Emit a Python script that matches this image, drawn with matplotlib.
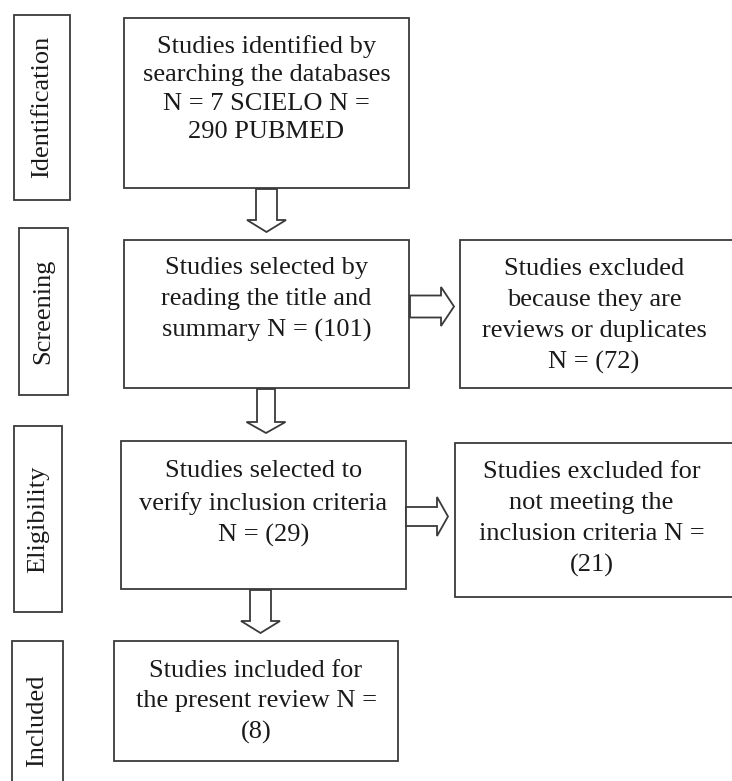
import matplotlib.pyplot as plt
from matplotlib import patches

# PRISMA flow chart, drawn in pixel coordinates of the 732x781 picture #

phases = ["Identification", "Screening", "Eligibility", "Included"]

main_texts = [
    "Studies identified by\nsearching the databases\nN = 7 SCIELO N =\n290 PUBMED",
    "Studies selected by\nreading the title and\nsummary N = (101)",
    "Studies selected to\nverify inclusion criteria\nN = (29)",
    "Studies included for\nthe present review N =\n(8)",
]

excluded_texts = [
    "Studies excluded\nbecause they are\nreviews or duplicates\nN = (72)",
    "Studies excluded for\nnot meeting the\ninclusion criteria N =\n(21)",
]

W, H = 732, 781
fig = plt.figure(figsize=(W / 100, H / 100), dpi=100)
ax = fig.add_axes([0, 0, 1, 1])
ax.set_xlim(0, W)
ax.set_ylim(H, 0)
ax.axis("off")

edge = "#3a3a3a"
lw = 1.3
font = "Liberation Serif"
fs = 19

# (x0, y0, x1, y1) boxes
phase_boxes = [(14, 15, 70, 200), (19, 228, 68, 395), (14, 426, 62, 612), (12, 641, 63, 790)]
main_boxes = [(124, 18, 409, 188), (124, 240, 409, 388), (121, 441, 406, 589), (114, 641, 398, 761)]
excl_boxes = [(460, 240, 740, 388), (455, 443, 740, 597)]
main_text_top = [35, 257, 460, 660]
main_spacing = [1.37, 1.53, 1.53, 1.5]
excl_text_top = [258, 461]
phase_text_cy = [107, 311, 519, 721]


def box(b):
    x0, y0, x1, y1 = b
    ax.add_patch(patches.Rectangle((x0, y0), x1 - x0, y1 - y0, facecolor="white",
                                   edgecolor=edge, linewidth=lw))


def down_arrow(xc, y0, y_head, y_tip, shaft=10.5, head=19.5):
    pts = [(xc - shaft, y0), (xc + shaft, y0), (xc + shaft, y_head), (xc + head, y_head),
           (xc, y_tip), (xc - head, y_head), (xc - shaft, y_head)]
    ax.add_patch(patches.Polygon(pts, closed=True, facecolor="white", edgecolor=edge, linewidth=lw))


def right_arrow(yc, x0, x_head, x_tip, shaft=11, head=19.5):
    pts = [(x0, yc - shaft), (x_head, yc - shaft), (x_head, yc - head), (x_tip, yc),
           (x_head, yc + head), (x_head, yc + shaft), (x0, yc + shaft)]
    ax.add_patch(patches.Polygon(pts, closed=True, facecolor="white", edgecolor=edge, linewidth=lw))


for b, name, cy in zip(phase_boxes, phases, phase_text_cy):
    box(b)
    ax.text((b[0] + b[2]) / 2, cy, name, rotation=90, ha="center", va="center",
            family=font, fontsize=fs, color="#1a1a1a")

for b, t, top, ls in zip(main_boxes, main_texts, main_text_top, main_spacing):
    box(b)
    ax.text((b[0] + b[2]) / 2, top, t, ha="center", va="top", family=font,
            fontsize=fs, linespacing=ls, color="#1a1a1a")

for b, t, top in zip(excl_boxes, excluded_texts, excl_text_top):
    box(b)
    ax.text((b[0] + min(b[2], W)) / 2 - 2, top, t, ha="center", va="top", family=font,
            fontsize=fs, linespacing=1.53, color="#1a1a1a")

down_arrow(266.5, 189, 220, 232)
down_arrow(266, 389, 422, 433, shaft=9)
down_arrow(260.5, 590, 621, 633)
right_arrow(306.5, 410, 441, 454)
right_arrow(516.5, 406, 437, 448, shaft=9.5)

fig.savefig("out.png", dpi=100)
